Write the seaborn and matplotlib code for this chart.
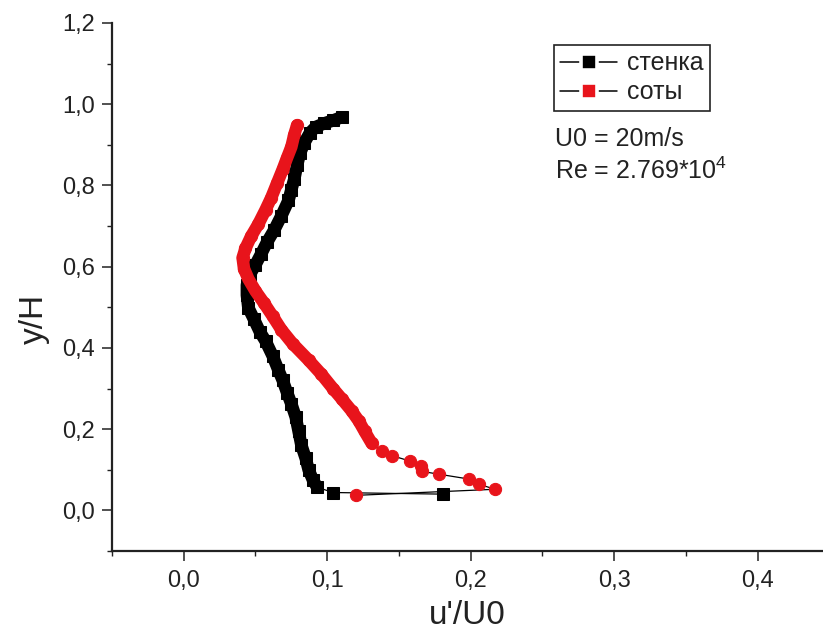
import numpy as np
import pandas as pd
import seaborn as sns
import matplotlib.pyplot as plt
from matplotlib.lines import Line2D
from matplotlib.ticker import AutoMinorLocator

# стенка (wall), read top to bottom
wall_x = [0.110, 0.104, 0.098, 0.092, 0.088, 0.084, 0.081, 0.079, 0.077, 0.075,
          0.073, 0.068, 0.063, 0.058, 0.054, 0.050, 0.046, 0.044, 0.044, 0.045,
          0.049, 0.053, 0.057, 0.062, 0.066, 0.069, 0.072, 0.075, 0.078, 0.080,
          0.082, 0.085, 0.087, 0.090, 0.093, 0.104, 0.181]
wall_y = [0.968, 0.960, 0.953, 0.944, 0.930, 0.905, 0.879, 0.850, 0.815, 0.790,
          0.763, 0.725, 0.690, 0.660, 0.632, 0.605, 0.580, 0.555, 0.530, 0.499,
          0.470, 0.440, 0.417, 0.380, 0.345, 0.320, 0.290, 0.262, 0.230, 0.195,
          0.160, 0.128, 0.100, 0.075, 0.057, 0.044, 0.040]
wall_dense = 35

# соты (honeycomb), read top to bottom
comb_x = [0.079, 0.077, 0.075, 0.072, 0.069, 0.065, 0.061, 0.057, 0.052, 0.047,
          0.043, 0.041, 0.042, 0.045, 0.050, 0.056, 0.062, 0.068, 0.076, 0.087,
          0.096, 0.104, 0.110, 0.117, 0.122, 0.126, 0.131, 0.138, 0.145, 0.158,
          0.165, 0.166, 0.178, 0.199, 0.206, 0.217, 0.120]
comb_y = [0.948, 0.925, 0.895, 0.868, 0.840, 0.805, 0.770, 0.740, 0.705, 0.675,
          0.645, 0.622, 0.595, 0.570, 0.540, 0.510, 0.478, 0.445, 0.410, 0.370,
          0.335, 0.300, 0.275, 0.245, 0.220, 0.195, 0.165, 0.146, 0.135, 0.121,
          0.109, 0.096, 0.089, 0.077, 0.064, 0.052, 0.037]
comb_dense = 27

x_ticks = [0.0, 0.1, 0.2, 0.3, 0.4]
x_labels = ['0,0', '0,1', '0,2', '0,3', '0,4']
y_ticks = [0.0, 0.2, 0.4, 0.6, 0.8, 1.0, 1.2]
y_labels = ['0,0', '0,2', '0,4', '0,6', '0,8', '1,0', '1,2']

RED = '#e8141b'
INK = '#222222'

sns.set_theme(style='ticks')
plt.rcParams['font.family'] = ['Liberation Sans Narrow', 'Liberation Sans', 'DejaVu Sans']
plt.rcParams['mathtext.default'] = 'regular'

fig = plt.figure(figsize=(8.23, 6.39), dpi=100)
ax = fig.add_axes([112 / 823, 88 / 639, 711 / 823, 528 / 639])

series = [
    ('стенка', wall_x, wall_y, wall_dense, 'black', 's', 9.0),
    ('соты', comb_x, comb_y, comb_dense, RED, 'o', 8.8),
]
for name, xs, ys, n, col, mk, ms in series:
    df = pd.DataFrame({'x': xs, 'y': ys})
    sns.lineplot(data=df, x='x', y='y', sort=False, estimator=None, ax=ax,
                 color='black', lw=0.9, marker=mk, markersize=ms,
                 markerfacecolor=col, markeredgecolor=col, zorder=3)
    # dense trail of overlapping markers
    ax.plot(xs[:n], ys[:n], color=col, lw=9, solid_capstyle='round',
            solid_joinstyle='round', zorder=4)

ax.set_xlim(-0.05, 0.4455)
ax.set_ylim(-0.1, 1.2)
ax.set_xticks(x_ticks)
ax.set_xticklabels(x_labels)
ax.set_yticks(y_ticks)
ax.set_yticklabels(y_labels)
ax.xaxis.set_minor_locator(AutoMinorLocator(2))
ax.yaxis.set_minor_locator(AutoMinorLocator(2))
ax.tick_params(which='major', direction='out', length=7.5, width=1.1,
               labelsize=17, color=INK, labelcolor=INK)
ax.tick_params(which='minor', direction='out', length=3.8, width=1.0, color=INK)
ax.tick_params(axis='x', pad=6)
ax.tick_params(axis='y', pad=5)
sns.despine(ax=ax)
for s in ['left', 'bottom']:
    ax.spines[s].set_linewidth(1.6)
    ax.spines[s].set_color(INK)

ax.set_xlabel("u'/U0", fontsize=24, color=INK, labelpad=6)
ax.set_ylabel('y/H', fontsize=24, color=INK)
ax.yaxis.set_label_coords(-0.087, 0.44)

handles = [
    Line2D([0], [0], color='black', lw=1.1, marker='s', markersize=12,
           markerfacecolor='black', markeredgecolor='white', markeredgewidth=2.6),
    Line2D([0], [0], color='black', lw=1.1, marker='s', markersize=12,
           markerfacecolor=RED, markeredgecolor='white', markeredgewidth=2.6),
]
leg = ax.legend(handles, ['стенка', 'соты'], loc='upper left',
                bbox_to_anchor=(0.621, 0.958), borderaxespad=0, frameon=True,
                fancybox=False, framealpha=1, edgecolor=INK, handlelength=2.3,
                handletextpad=0.4, borderpad=0.25, labelspacing=0.2,
                prop={'family': ['Liberation Sans', 'DejaVu Sans'], 'size': 18})
leg.get_frame().set_linewidth(1.2)
for t in leg.get_texts():
    t.set_color(INK)

fig.text(555 / 823, 1 - 127 / 639, 'U0 = 20m/s', fontsize=18, va='top',
         family=['Liberation Sans', 'DejaVu Sans'], color=INK)
fig.text(555 / 823, 1 - 158 / 639, 'Re = 2.769*10$^4$', fontsize=18, va='top',
         family=['Liberation Sans', 'DejaVu Sans'], color=INK)

fig.savefig('out.png', dpi=100, facecolor='white')
